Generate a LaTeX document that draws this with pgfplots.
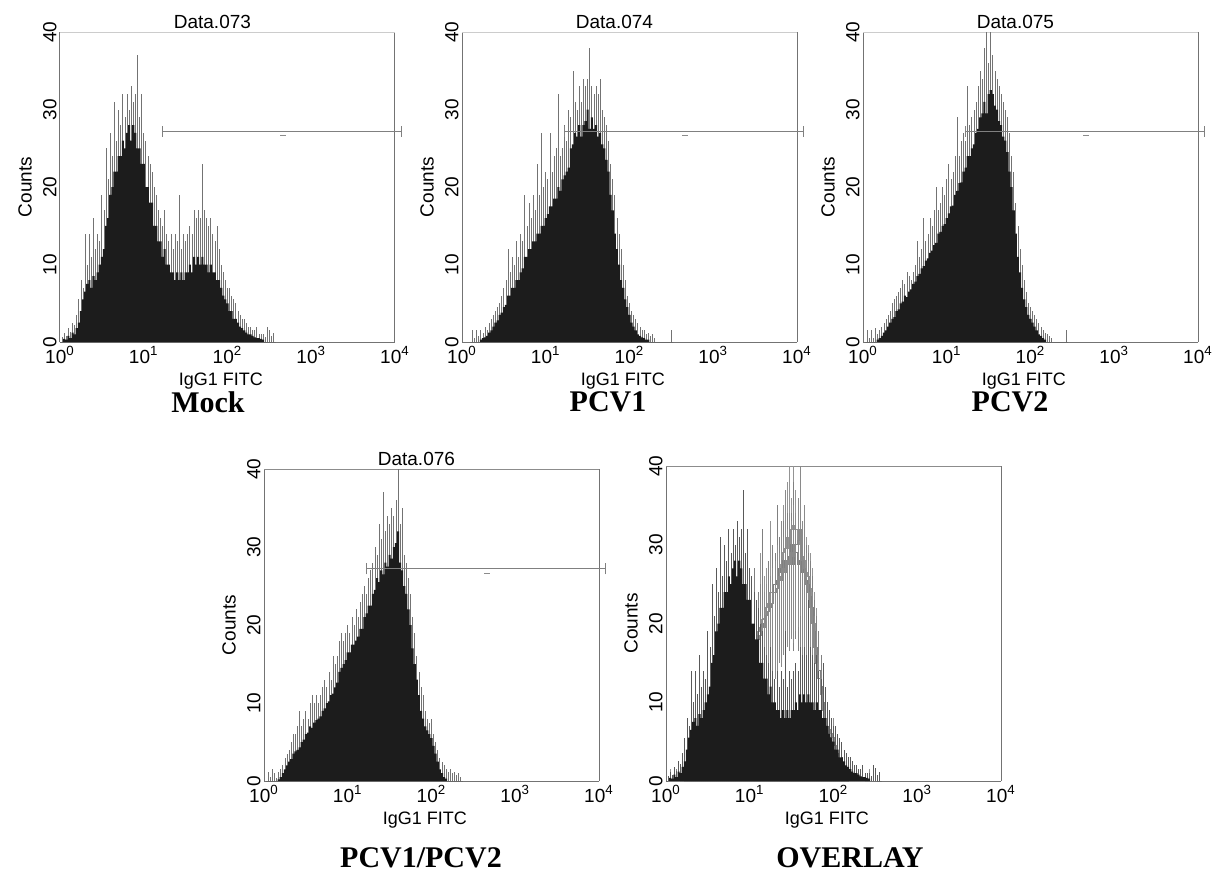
\documentclass[border=0pt]{standalone}
\usepackage{pgfplots}
\pgfplotsset{compat=1.18}
\usepackage{pgfplotstable}
\usepackage{fontspec}
\setmainfont{Liberation Sans}
\newfontfamily\timesfont{Liberation Serif}

\definecolor{histfill}{HTML}{1C1C1C}

% Mock
\pgfplotstableread{
x c s
0.000 0 0
0.025 0 0.6
0.050 0.4 1.2
0.075 0.3 0.8
0.100 0.8 1.8
0.125 0.5 1.3
0.150 1.2 2.5
0.175 1.0 2.2
0.200 1.8 3.5
0.225 2.5 5.5
0.250 4 8
0.275 5.5 7
0.300 6.5 14
0.325 7.5 10
0.350 8 14
0.375 7 11
0.400 8.5 16
0.425 8 12
0.450 9 14
0.475 10 13
0.500 11 19
0.525 12 17
0.550 15 25
0.575 16 21
0.600 19 27
0.625 20 24
0.650 22 31
0.675 22 26
0.700 24 30
0.725 24 28
0.750 26 32
0.775 25 29
0.800 27 32
0.825 28 30
0.850 26 33
0.875 28 31
0.900 27 32
0.925 25 37
0.950 25 29
0.975 23 32
1.000 23 27
1.025 20 26
1.050 20 24
1.075 18 23
1.100 18 22
1.125 15 20
1.150 15 19
1.175 13 17
1.200 13 16
1.225 11 15
1.250 12 17
1.275 10 14
1.300 10 13
1.325 9 14
1.350 9 12
1.375 8 14
1.400 9 13
1.425 8 19
1.450 9 12
1.475 8 14
1.500 9 13
1.525 9 14
1.550 10 15
1.575 9 14
1.600 11 17
1.625 10 16
1.650 11 17
1.675 10 16
1.700 11 23
1.725 10 17
1.750 10 16
1.775 9 15
1.800 10 16
1.825 9 14
1.850 9 13
1.875 8 15
1.900 8 12
1.925 7 10
1.950 6 9
1.975 5.5 8
2.000 5 7
2.025 4 7
2.050 4 6
2.075 3 5.5
2.100 3 5
2.125 2.5 4
2.150 2 3.5
2.175 1.8 3
2.200 1.5 3
2.225 1.2 2.5
2.250 1 2
2.275 1 2
2.300 0.8 1.5
2.325 0.6 1.5
2.350 0.5 2
2.375 0.5 1
2.400 0.4 1
2.425 0.3 1
2.450 0 0.6
2.475 0 2
2.500 0 1.6
2.525 0 0.8
2.550 0 1.2
2.575 0 0
}\mock

% PCV1
\pgfplotstableread{
x c s
0.100 0 0
0.125 0 1.5
0.150 0 0.5
0.175 0 1.5
0.200 0 0.8
0.225 0.3 1.5
0.250 0.5 1.2
0.275 0.6 2
0.300 0.8 1.5
0.325 1.2 2.5
0.350 1.5 3
0.375 2 3.5
0.400 2.5 4
0.425 2.8 4.5
0.450 3.5 5
0.475 3.8 6
0.500 4.5 7
0.525 4.8 8
0.550 6 12
0.575 6 9
0.600 7 11
0.625 7 10
0.650 8 13
0.675 8 11
0.700 9 14
0.725 9.5 13
0.750 11 19
0.775 11 15
0.800 12 18
0.825 12 16
0.850 13 19
0.875 13 17
0.900 14 23
0.925 14 19
0.950 15 27
0.975 15 20
1.000 16 22
1.025 16.5 21
1.050 17.5 27
1.075 17.5 22
1.100 18.5 24
1.125 18.5 25
1.150 20 32
1.175 19.5 24
1.200 21 25
1.225 21.5 28
1.250 22 26
1.275 22.5 30
1.300 25 29
1.325 25.5 35
1.350 27 31
1.375 26.5 30
1.400 28 33
1.425 26.5 31
1.450 28 34
1.475 28.5 33
1.500 30 34
1.525 27.5 38
1.550 29 33
1.575 27.5 32
1.600 28 33
1.625 26.5 32
1.650 27 34
1.675 25.5 30
1.700 25 29
1.725 23.5 28
1.750 22 26
1.775 19 23
1.800 17 21
1.825 14 19
1.850 12 16
1.875 10 14
1.900 8 12
1.925 7 10
1.950 5.5 8
1.975 4.5 6
2.000 3.5 5
2.025 2.5 4
2.050 2 3.5
2.075 1.5 3
2.100 1 2.5
2.125 0.8 2
2.150 0.6 1.5
2.175 0.5 1.5
2.200 0.3 1
2.225 0.3 1.2
2.250 0 0.8
2.275 0 1
2.300 0 0.5
2.325 0 0
2.475 0 0
2.500 0 1.5
2.525 0 0
}\pcva

% PCV2
\pgfplotstableread{
x c s
0.025 0 0
0.050 0 1.5
0.075 0 0.5
0.100 0 1.5
0.125 0 0.5
0.150 0 1.8
0.175 0.3 1
0.200 0.5 1.5
0.225 0.8 2
0.250 1.2 2.5
0.275 1.5 3
0.300 2 3.5
0.325 2.5 4
0.350 3 5
0.375 3.2 5.5
0.400 4 6
0.425 4.2 6.5
0.450 5 7
0.475 5.2 8
0.500 6 7.5
0.525 5.8 9
0.550 6.5 8.5
0.575 6.8 8
0.600 7.5 9
0.625 7.8 10
0.650 8.5 13
0.675 8.8 11
0.700 9.5 12
0.725 9.8 16
0.750 10.5 13
0.775 10.8 14
0.800 11.5 16
0.825 11.8 15
0.850 12.5 17
0.875 12.8 20
0.900 14 17
0.925 14.2 18
0.950 15 20
0.975 15.2 19
1.000 16 21
1.025 16.6 23
1.050 17.5 21
1.075 17.6 22
1.100 19 24
1.125 19.5 29
1.150 20.5 24
1.175 20.6 26
1.200 22 27
1.225 22.5 26
1.250 24 33
1.275 24 28
1.300 25 29
1.325 25.5 30
1.350 27 31
1.375 27.5 33
1.400 29 35
1.425 29.5 34
1.450 31 38
1.475 29.5 40
1.500 32 36
1.525 32.5 40
1.550 32 37
1.575 30.5 35
1.600 30 34
1.625 28.5 33
1.650 28 32
1.675 26.5 31
1.700 26 30
1.725 24.5 29
1.750 22 27
1.775 20 24
1.800 17 22
1.825 14 18
1.850 11 15
1.875 9 12
1.900 7 10
1.925 5.5 8
1.950 4.5 6.5
1.975 3.5 5
2.000 3 4.5
2.025 2.5 4
2.050 2 3.5
2.075 1.5 3
2.100 1 2.5
2.125 0.8 2
2.150 0.5 1.5
2.175 0.3 1.2
2.200 0 1
2.225 0 0.8
2.250 0 0.5
2.275 0 0
2.400 0 0
2.425 0 1.5
2.450 0 0
}\pcvb

% PCV1/PCV2
\pgfplotstableread{
x c s
0.025 0 0
0.050 0 1.2
0.075 0 0.5
0.100 0 1.5
0.125 0 1
0.150 0 0.4
0.175 0.2 1.2
0.200 0.5 1.5
0.225 1 2
0.250 1.5 3
0.275 2 3.5
0.300 2.5 4
0.325 2.8 5
0.350 3.5 6
0.375 3.8 6
0.400 4 7
0.425 4.3 9
0.450 5 7
0.475 5.3 8
0.500 6 9
0.525 6.2 8
0.550 7 10
0.575 6.8 11
0.600 7.5 10
0.625 7.8 11
0.650 8 10
0.675 8.3 11
0.700 9 12
0.725 9.3 13
0.750 10 12
0.775 10.2 14
0.800 11 13
0.825 11.2 16
0.850 12 15
0.875 12.6 16
0.900 14 18
0.925 14.5 19
0.950 15 18
0.975 15.5 19
1.000 16.5 20
1.025 16.5 19
1.050 17.5 21
1.075 17.5 20
1.100 18 22
1.125 18.5 21
1.150 19.5 23
1.175 19.5 24
1.200 21 25
1.225 21.5 24
1.250 22.5 26
1.275 22.5 27
1.300 24 28
1.325 24.5 30
1.350 26 29
1.375 25.5 33
1.400 27 31
1.425 26.5 37
1.450 28 32
1.475 27.5 34
1.500 29 33
1.525 28.5 35
1.550 30 34
1.575 30.5 36
1.600 32 40
1.625 28 33
1.650 27 35
1.675 25 29
1.700 24 28
1.725 22 26
1.750 20 24
1.775 17 21
1.800 15 19
1.825 13 16
1.850 11 14
1.875 9 12
1.900 8 11
1.925 7 9
1.950 6.5 8
1.975 6 7.5
2.000 5.5 8
2.025 4.5 6
2.050 3.5 5
2.075 2.5 4
2.100 1.5 3
2.125 1 2.5
2.150 0.5 2
2.175 0.3 1.5
2.200 0 1.2
2.225 0 1.5
2.250 0 1
2.275 0 1.2
2.300 0 0.8
2.325 0 1
2.350 0 0.5
2.375 0 0
}\pcvab

\pgfplotsset{
  facs/.style={
    anchor=south west,
    scale only axis,
    width=167.5pt, height=155pt,
    xmin=0, xmax=4, ymin=0, ymax=40,
    clip=false,
    axis lines=left,
    axis line style={-, draw=black!55, line width=0.5pt},
    major tick length=0pt,
    xtick={0,1,2,3,4},
    xticklabels={10\textsuperscript{0},10\textsuperscript{1},10\textsuperscript{2},10\textsuperscript{3},10\textsuperscript{4}},
    ytick={0,10,20,30,40},
    yticklabels={0,10,20,30,40},
    xticklabel style={font=\fontsize{9.5}{10}\selectfont, inner sep=1pt, yshift=-1pt},
    yticklabel style={rotate=90, anchor=south, inner sep=1.5pt, font=\fontsize{9.5}{10}\selectfont},
    xlabel={IgG1 FITC}, ylabel={Counts},
    every axis x label/.style={at={(rel axis cs:0.48,0)}, anchor=center, yshift=-19.5pt, font=\fontsize{9}{10}\selectfont},
    every axis y label/.style={at={(rel axis cs:0,0.5)}, rotate=90, anchor=center, yshift=17.5pt, font=\fontsize{9.5}{10}\selectfont},
    every axis title shift=0pt,
    title style={at={(rel axis cs:0.455,1)}, anchor=south, inner sep=0pt, yshift=1.5pt, font=\fontsize{9.5}{10}\selectfont},
  },
  spikes/.style={ycomb, draw=black!55, line width=0.4pt, mark=none},
  core/.style={const plot mark mid, fill=histfill, draw=none, mark=none},
  grayspk/.style={quiver={u=0, v={\thisrow{s}-max(\thisrow{c}-11,0)}}, draw=#1, line width=0.35pt, mark=none},
  grayline/.style={const plot mark mid, draw=#1, line width=0.35pt, mark=none},
}

\newcommand{\gate}{%
  \draw[black!50, line width=0.5pt] (axis cs:1.22,27.2) -- (axis cs:4.08,27.2);
  \draw[black!50, line width=0.5pt] (axis cs:1.22,26.5) -- (axis cs:1.22,27.9);
  \draw[black!50, line width=0.5pt] (axis cs:4.08,26.5) -- (axis cs:4.08,27.9);
  \draw[black!45, line width=0.5pt] (axis cs:2.63,26.6) -- (axis cs:2.70,26.6);
}
\newcommand{\frameR}[1]{%
  \draw[black!55, line width=0.5pt] (rel axis cs:1,0) -- (rel axis cs:1,1);
  \draw[#1, line width=0.5pt] (rel axis cs:0,1) -- (rel axis cs:1,1);
}

\begin{document}
\begin{tikzpicture}
\path[use as bounding box] (0,0) rectangle (608.5pt,-439.5pt);

% Panel 1: Mock
\begin{axis}[facs, at={(30pt,-171pt)}, title={Data.073}]
\frameR{black!20}
\addplot[spikes] table[x=x,y=s] {\mock};
\addplot[core] table[x=x,y=c] {\mock} \closedcycle;
\gate
\end{axis}

% Panel 2: PCV1
\begin{axis}[facs, at={(231pt,-171pt)}, title={Data.074}]
\frameR{black!20}
\addplot[spikes] table[x=x,y=s] {\pcva};
\addplot[core] table[x=x,y=c] {\pcva} \closedcycle;
\gate
\end{axis}

% Panel 3: PCV2
\begin{axis}[facs, at={(431.5pt,-171pt)}, title={Data.075}]
\frameR{black!20}
\addplot[spikes] table[x=x,y=s] {\pcvb};
\addplot[core] table[x=x,y=c] {\pcvb} \closedcycle;
\gate
\end{axis}

% Panel 4: PCV1/PCV2
\begin{axis}[facs, height=156pt, at={(132pt,-390.5pt)}, title={Data.076}]
\frameR{black!45}
\addplot[spikes] table[x=x,y=s] {\pcvab};
\addplot[core] table[x=x,y=c] {\pcvab} \closedcycle;
\gate
\end{axis}

% Panel 5: Overlay
\begin{axis}[facs, height=157.5pt, at={(333pt,-390.5pt)}]
\frameR{black!45}
\addplot[grayspk=black!42] table[x=x, y expr={max(\thisrow{c}-11,0)}] {\pcvb};
\addplot[grayline=black!42] table[x=x,y=c] {\pcvb};
\addplot[grayspk=black!50] table[x=x, y expr={max(\thisrow{c}-11,0)}] {\pcva};
\addplot[grayline=black!50] table[x=x,y=c] {\pcva};
\addplot[grayspk=black!46] table[x=x, y expr={max(\thisrow{c}-11,0)}] {\pcvab};
\addplot[grayline=black!46] table[x=x,y=c] {\pcvab};
\addplot[spikes, draw=black!65] table[x=x,y=s] {\mock};
\addplot[core] table[x=x,y=c] {\mock} \closedcycle;
\end{axis}

% Sample labels
\begin{scope}[every node/.style={font=\timesfont\bfseries\fontsize{15}{17}\selectfont, inner sep=0pt}]
\node at (104pt,-201pt) {Mock};
\node at (304pt,-201pt) {PCV1};
\node at (505pt,-201pt) {PCV2};
\node at (210.5pt,-429pt) {PCV1/PCV2};
\node at (425pt,-429pt) {OVERLAY};
\end{scope}
\end{tikzpicture}
\end{document}
